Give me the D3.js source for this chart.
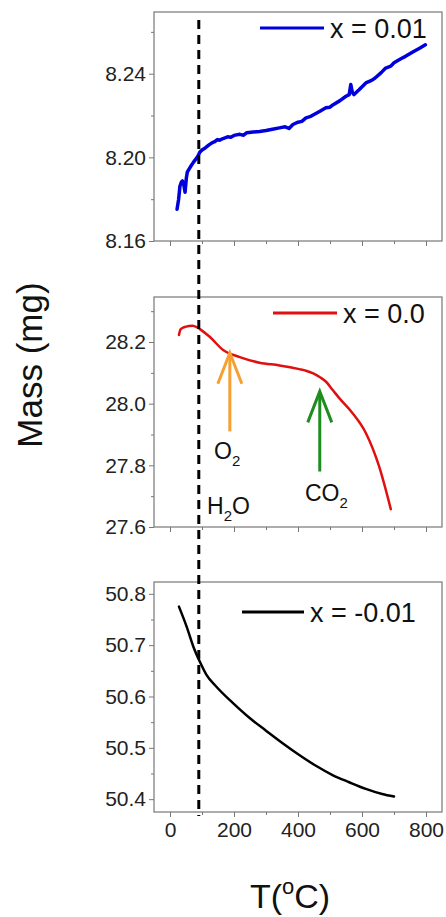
<!DOCTYPE html>
<html>
<head>
<meta charset="utf-8">
<script src="https://cdn.jsdelivr.net/npm/d3@7"></script>
<style>
  body { margin: 0; background: #fff; }
  svg { display: block; font-family: "Liberation Sans", Arial, sans-serif; }
</style>
</head>
<body>
<div id="chart"></div>
<script>
// temperature (C) and mass (mg)
const tempBlue = [22, 27, 31, 35, 39, 43, 47, 51, 54, 60, 66, 73, 80, 87, 93, 100, 110, 124, 132, 140, 148, 155, 166, 180, 190, 200, 218, 230, 240, 260, 280, 300, 320, 342, 360, 372, 384, 400, 412, 425, 440, 450, 470, 487, 500, 510, 530, 550, 560, 565, 570, 575, 590, 612, 630, 640, 660, 674, 690, 700, 720, 736, 760, 780, 798];
const massBlue = [8.1752, 8.1800, 8.1862, 8.1880, 8.1887, 8.1870, 8.1833, 8.1900, 8.1929, 8.1945, 8.1960, 8.1976, 8.1990, 8.2005, 8.2024, 8.2035, 8.2045, 8.2062, 8.2070, 8.2075, 8.2085, 8.2082, 8.2090, 8.2098, 8.2096, 8.2105, 8.2110, 8.2106, 8.2118, 8.2121, 8.2124, 8.2128, 8.2134, 8.2141, 8.2146, 8.2138, 8.2157, 8.2168, 8.2172, 8.2189, 8.2196, 8.2205, 8.2222, 8.2237, 8.2240, 8.2252, 8.2270, 8.2292, 8.2300, 8.2348, 8.2310, 8.2300, 8.2322, 8.2356, 8.2368, 8.2378, 8.2405, 8.2427, 8.2436, 8.2452, 8.2470, 8.2483, 8.2505, 8.2522, 8.2538];

const tempRed = [28, 33, 47, 71, 93, 124, 166, 218, 280, 342, 404, 425, 446, 470, 487, 508, 529, 570, 612, 653, 690];
const massRed = [28.223, 28.241, 28.249, 28.253, 28.242, 28.217, 28.174, 28.151, 28.133, 28.124, 28.112, 28.107, 28.099, 28.085, 28.072, 28.045, 28.018, 27.970, 27.905, 27.798, 27.658];

const tempBlack = [28, 52, 73, 93, 114, 145, 197, 249, 301, 352, 404, 456, 508, 560, 612, 663, 700];
const massBlack = [50.775, 50.736, 50.697, 50.668, 50.642, 50.619, 50.587, 50.558, 50.533, 50.509, 50.486, 50.465, 50.447, 50.433, 50.420, 50.410, 50.405];

const xTicks = [0, 200, 400, 600, 800];
const xMinor = [100, 300, 500, 700];
const legendNames = ["x = 0.01", "x = 0.0", "x = -0.01"];
const waterTemp = 90;

const W = 446, H = 917;
const svg = d3.select('#chart').append('svg')
    .attr('width', W)
    .attr('height', H);

const x = d3.scaleLinear().domain([-50, 850]).range([154, 442]);

const panels = [
    {
        temps: tempBlue, mass: massBlue, color: '#0000dd', width: 3.5, curve: d3.curveLinear,
        y: d3.scaleLinear().domain([8.16, 8.2695]).range([241, 12]),
        ticks: [8.16, 8.20, 8.24], minor: [8.18, 8.22, 8.26], fmt: d3.format('.2f'),
        legend: { x1: 260, x2: 324, y: 28, name: legendNames[0] }
    },
    {
        temps: tempRed, mass: massRed, color: '#e01010', width: 2.5, curve: d3.curveMonotoneX,
        y: d3.scaleLinear().domain([27.6, 28.346]).range([527, 297]),
        ticks: [27.6, 27.8, 28.0, 28.2], minor: [27.7, 27.9, 28.1, 28.3], fmt: d3.format('.1f'),
        legend: { x1: 273, x2: 337, y: 313, name: legendNames[1] }
    },
    {
        temps: tempBlack, mass: massBlack, color: '#000', width: 2.5, curve: d3.curveMonotoneX,
        y: d3.scaleLinear().domain([50.375, 50.823]).range([812, 582]),
        ticks: [50.4, 50.5, 50.6, 50.7, 50.8], minor: [50.45, 50.55, 50.65, 50.75], fmt: d3.format('.1f'),
        legend: { x1: 242, x2: 304, y: 612, name: legendNames[2] },
        xLabels: true
    }
];

panels.forEach(p => {
    const [yBot, yTop] = p.y.range();
    const g = svg.append('g');

    // frame
    g.append('rect')
        .attr('x', x.range()[0])
        .attr('y', yTop)
        .attr('width', x.range()[1] - x.range()[0])
        .attr('height', yBot - yTop)
        .attr('fill', 'none')
        .attr('stroke', '#777')
        .attr('stroke-width', 1.2);

    // y axis
    const ya = g.append('g')
        .attr('transform', `translate(${x.range()[0]},0)`)
        .call(d3.axisLeft(p.y).tickValues(p.ticks).tickFormat(p.fmt).tickSize(5).tickPadding(3));
    ya.select('.domain').remove();
    ya.selectAll('line').attr('stroke', '#777');
    ya.selectAll('text').attr('font-size', '21px').attr('fill', '#222')
        .attr('font-family', '"Liberation Sans", Arial, sans-serif');

    g.append('g')
        .attr('transform', `translate(${x.range()[0]},0)`)
        .call(d3.axisLeft(p.y).tickValues(p.minor).tickFormat('').tickSize(3))
        .call(a => a.select('.domain').remove())
        .selectAll('line').attr('stroke', '#777');

    // x axis
    const xa = g.append('g')
        .attr('transform', `translate(0,${yBot})`)
        .call(d3.axisBottom(x).tickValues(xTicks).tickSize(5).tickPadding(5)
            .tickFormat(p.xLabels ? d3.format('d') : ''));
    xa.select('.domain').remove();
    xa.selectAll('line').attr('stroke', '#777');
    xa.selectAll('text').attr('font-size', '21px').attr('fill', '#222')
        .attr('font-family', '"Liberation Sans", Arial, sans-serif');

    g.append('g')
        .attr('transform', `translate(0,${yBot})`)
        .call(d3.axisBottom(x).tickValues(xMinor).tickFormat('').tickSize(3))
        .call(a => a.select('.domain').remove())
        .selectAll('line').attr('stroke', '#777');

    // data line
    const line = d3.line()
        .x((d, i) => x(p.temps[i]))
        .y(d => p.y(d))
        .curve(p.curve);
    g.append('path')
        .datum(p.mass)
        .attr('d', line)
        .attr('fill', 'none')
        .attr('stroke', p.color)
        .attr('stroke-width', p.width)
        .attr('stroke-linejoin', 'round')
        .attr('stroke-linecap', 'round');

    // legend
    g.append('line')
        .attr('x1', p.legend.x1).attr('x2', p.legend.x2)
        .attr('y1', p.legend.y).attr('y2', p.legend.y)
        .attr('stroke', p.color)
        .attr('stroke-width', 3);
    g.append('text')
        .attr('x', p.legend.x2 + 6)
        .attr('y', p.legend.y + 10)
        .attr('font-size', '27px')
        .attr('fill', '#111')
        .text(p.legend.name);
});

// dashed H2O line across all panels
svg.append('line')
    .attr('x1', x(waterTemp)).attr('x2', x(waterTemp))
    .attr('y1', 20).attr('y2', 816)
    .attr('stroke', '#000')
    .attr('stroke-width', 3)
    .attr('stroke-dasharray', '9,6');

// arrows in the middle panel
const yMid = panels[1].y;
const arrows = [
    { t: 187, from: 27.91, to: 28.165, color: '#f5a030' },
    { t: 468, from: 27.78, to: 28.04, color: '#1e8c1e' }
];
arrows.forEach(a => {
    const ax = x(a.t), y0 = yMid(a.from), y1 = yMid(a.to);
    svg.append('line')
        .attr('x1', ax).attr('x2', ax).attr('y1', y0).attr('y2', y1 + 1)
        .attr('stroke', a.color).attr('stroke-width', 3);
    svg.append('path')
        .attr('d', `M${ax - 12},${y1 + 31} L${ax},${y1} L${ax + 12},${y1 + 31}`)
        .attr('fill', 'none')
        .attr('stroke', a.color)
        .attr('stroke-width', 3)
        .attr('stroke-linejoin', 'miter');
});

// chemical labels with subscripts
const chem = (xp, yp, parts) => {
    const t = svg.append('text')
        .attr('x', xp).attr('y', yp)
        .attr('font-size', '23px')
        .attr('fill', '#111');
    parts.forEach(([s, shift]) => {
        t.append('tspan')
            .attr('font-size', shift === 1 ? '15px' : '23px')
            .attr('dy', shift === 1 ? 7 : shift === -1 ? -7 : 0)
            .text(s);
    });
};
chem(214, 459, [['O', 0], ['2', 1]]);
chem(305, 501, [['CO', 0], ['2', 1]]);
chem(207, 514, [['H', 0], ['2', 1], ['O', -1]]);

// axis titles
svg.append('text')
    .attr('transform', 'translate(42,365) rotate(-90)')
    .attr('text-anchor', 'middle')
    .attr('font-size', '35px')
    .attr('fill', '#111')
    .text('Mass (mg)');

const xt = svg.append('text')
    .attr('x', 290).attr('y', 908)
    .attr('text-anchor', 'middle')
    .attr('font-size', '34px')
    .attr('fill', '#111');
xt.append('tspan').text('T(');
xt.append('tspan').attr('font-size', '22px').attr('dy', -14).text('o');
xt.append('tspan').attr('dy', 14).text('C)');
</script>
</body>
</html>
